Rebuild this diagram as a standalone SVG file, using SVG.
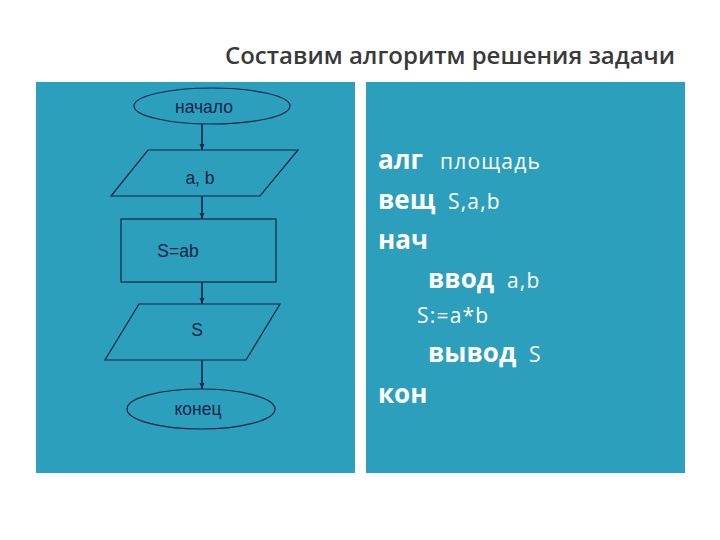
<svg xmlns="http://www.w3.org/2000/svg" width="720" height="540" viewBox="0 0 720 540">
<defs>
<marker id="ah" viewBox="0 0 10 10" refX="10" refY="5" markerWidth="6" markerHeight="6" orient="auto" markerUnits="userSpaceOnUse">
<path d="M0,1 L10,5 L0,9 z" fill="#14234a"/>
</marker>
<style>
.panel{fill:#2b9fbb}
.sh{fill:none;stroke:#14234a;stroke-width:1.2}
.fc{font-family:"Liberation Sans",Arial,sans-serif;font-size:17.5px;fill:#14234a;text-anchor:middle}
.con{stroke:#14234a;stroke-width:1.6;fill:none;marker-end:url(#ah)}
.kw{font-family:"Open Sans","Noto Sans",sans-serif;font-weight:bold;font-size:26px;fill:#ffffff}
.nm{font-family:"Open Sans","Noto Sans",sans-serif;font-size:21px;letter-spacing:1.2px;fill:#ffffff}
.title{font-family:"Open Sans","Noto Sans",sans-serif;font-size:24px;font-weight:600;fill:#3a3a3a}
</style>
</defs>
<rect width="720" height="540" fill="#ffffff"/>
<text class="title" x="225" y="64">Составим алгоритм решения задачи</text>
<rect class="panel" x="36" y="82" width="319" height="391"/>
<rect class="panel" x="366" y="82" width="319" height="391"/>

<g id="connectors">
<line class="con" x1="202" y1="124" x2="202" y2="150"/>
<line class="con" x1="202" y1="196" x2="202" y2="219"/>
<line class="con" x1="202" y1="282" x2="202" y2="304"/>
<line class="con" x1="202" y1="360" x2="202" y2="389"/>
</g>

<g id="start">
<ellipse class="sh" cx="212" cy="106" rx="78" ry="18"/>
<text class="fc" x="204" y="113">начало</text>
</g>
<g id="input">
<polygon class="sh" points="148,150 298,150 260,196 111,196"/>
<text class="fc" x="200" y="184">a, b</text>
</g>
<g id="process">
<rect class="sh" x="121" y="219" width="155" height="63"/>
<text class="fc" x="178" y="257">S=ab</text>
</g>
<g id="output">
<polygon class="sh" points="139,304 280,304 246,360 105,360"/>
<text class="fc" x="197" y="336">S</text>
</g>
<g id="end">
<ellipse class="sh" cx="201" cy="409" rx="74" ry="20"/>
<text class="fc" x="198" y="415">конец</text>
</g>

<g id="code">
<text x="378" y="169"><tspan class="kw">алг</tspan><tspan class="nm" x="440">площадь</tspan></text>
<text x="378" y="209"><tspan class="kw">вещ</tspan><tspan class="nm" x="448">S,a,b</tspan></text>
<text class="kw" x="378" y="249">нач</text>
<text x="428" y="288"><tspan class="kw">ввод</tspan><tspan class="nm" x="507">a,b</tspan></text>
<text class="nm" x="417" y="323">S:=a*b</text>
<text x="428" y="362"><tspan class="kw">вывод</tspan><tspan class="nm" x="529">S</tspan></text>
<text class="kw" x="378" y="403">кон</text>
</g>
</svg>
